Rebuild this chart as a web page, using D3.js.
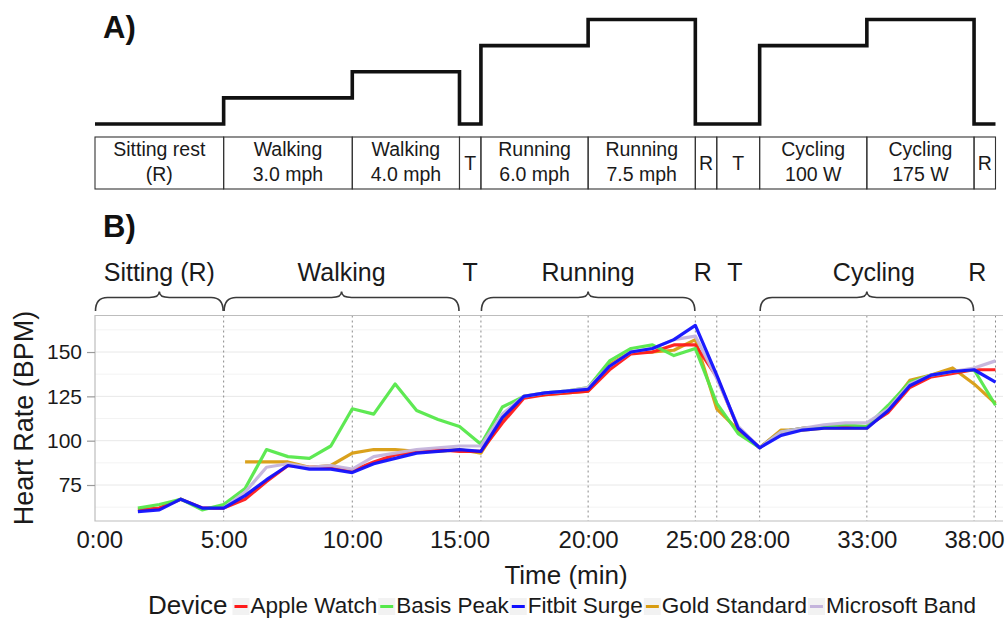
<!DOCTYPE html>
<html>
<head>
<meta charset="utf-8">
<script src="https://cdn.jsdelivr.net/npm/d3@7"></script>
<style>
  html, body { margin: 0; padding: 0; background: #fff; }
  svg { display: block; font-family: "Liberation Sans", Arial, sans-serif; }
</style>
</head>
<body>
<svg id="chart" width="1006" height="621"></svg>
<script>
// ---------- DATA ----------
// sample index (one per measurement, 5:00 == 0)
const sampleIdx = [-4,-3,-2,-1,0,1,2,3,4,5,6,7,8,9,10,11,12,13,14,15,16,17,18,19,20,21,22,23,24,25,26,27,28,29,30,31,32,33,34,35,36];
const devices = ["Apple Watch","Basis Peak","Fitbit Surge","Gold Standard","Microsoft Band"];
const deviceColors = ["#ff1a1a","#55e84a","#1010ff","#d89c10","#c4b4dc"];
const appleWatch = [61,62,67,62,62,67,77,86,85,85,83,88,92,94,95,94,94,110,124,126,127,128,140,149,150,154,154,136,107,96,105,107,108,108,108,116,130,136,138,140,140];
const basisPeak = [62,64,67,61,64,73,95,91,90,97,118,115,132,117,112,108,98,119,125,127,128,130,145,152,154,148,152,121,104,96,105,107,108,109,108,120,133,137,139,140,120];
const fitbitSurge = [60,61,67,62,62,69,78,86,84,84,82,87,90,93,94,95,94,113,125,127,128,129,142,150,152,157,165,137,107,96,103,106,107,107,107,117,131,137,139,140,133];
const goldStandard = [null,null,null,null,null,88,88,88,85,86,93,95,95,94,94,95,93,112,125,126,127,128,143,150,150,151,157,118,106,96,106,106,107,107,107,118,134,137,141,132,121];
const microsoftBand = [null,null,null,null,62,71,85,87,85,86,84,91,93,95,96,97,97,115,125,127,128,130,142,150,152,157,159,135,108,96,105,107,109,110,110,118,132,137,139,141,145];

// x-axis ticks (positions in sample index) and labels
const xTickIdx = [-5.8,0,6,11,17,22,25,30,35];
const xTickLabels = ["0:00","5:00","10:00","15:00","20:00","25:00","28:00","33:00","38:00"];
const yTicks = [75,100,125,150];
const yMinor = [62.5,87.5,112.5,137.5,162.5];

// protocol phases (panel A): boundaries in sample index, intensity level, labels
const phaseBounds = [-6,0,6,11,12,17,22,23,25,30,35,36];
const phaseLevels = [0,1,2,0,3,4,0,0,3,4,0];
const phaseLabels = [["Sitting rest","(R)"],["Walking","3.0 mph"],["Walking","4.0 mph"],["T"],["Running","6.0 mph"],["Running","7.5 mph"],["R"],["T"],["Cycling","100 W"],["Cycling","175 W"],["R"]];

// vertical phase markers in panel B
const phaseLines = [0,6,11,12,17,22,23,25,30,35,36];

// braces (panel B)
const braceStart = [-6,0,12,25];
const braceEnd = [0,11,22,35];
const braceNames = ["Sitting (R)","Walking","Running","Cycling"];
const soloLabels = ["T","R","T","R"];
const soloIdx = [11.5,22.35,23.85,35.15];

// ---------- LAYOUT ----------
const svg = d3.select("#chart");
const panel = {left: 95, right: 1003, top: 315.5, bottom: 521};

const x = d3.scaleLinear().domain([-6, 36.35]).range([panel.left, panel.right]);
const y = d3.scaleLinear().domain([54.7, 170.6]).range([panel.bottom, panel.top]);
const lvl = d3.scaleLinear().domain([0,4]).range([124, 19.5]);

const textCol = "#1a1a1a";

// ---------- PANEL A ----------
svg.append("text").attr("x", 103).attr("y", 38).attr("font-size", 31).attr("font-weight", "bold").attr("fill", "#111").text("A)");

const stepPts = phaseBounds.map((b, i) => [b, i < phaseLevels.length ? phaseLevels[i] : phaseLevels[phaseLevels.length-1]]);
svg.append("path")
  .attr("d", d3.line().x(d => x(d[0])).y(d => lvl(d[1])).curve(d3.curveStepAfter)(stepPts))
  .attr("fill", "none").attr("stroke", "#111").attr("stroke-width", 3.6);

const tableTop = 137, tableBot = 189;
const cells = svg.append("g");
phaseLabels.forEach((lab, i) => {
  const x0 = x(phaseBounds[i]), x1 = x(phaseBounds[i+1]);
  cells.append("rect").attr("x", x0).attr("y", tableTop).attr("width", x1 - x0).attr("height", tableBot - tableTop)
    .attr("fill", "none").attr("stroke", "#333").attr("stroke-width", 1.1);
  const cx = (x0 + x1) / 2;
  if (lab.length === 2) {
    cells.append("text").attr("x", cx).attr("y", 156).attr("text-anchor", "middle").attr("font-size", 19.5).attr("fill", textCol).text(lab[0]);
    cells.append("text").attr("x", cx).attr("y", 181).attr("text-anchor", "middle").attr("font-size", 19.5).attr("fill", textCol).text(lab[1]);
  } else {
    cells.append("text").attr("x", cx).attr("y", 169.5).attr("text-anchor", "middle").attr("font-size", 19.5).attr("fill", textCol).text(lab[0]);
  }
});

// ---------- PANEL B ----------
svg.append("text").attr("x", 103).attr("y", 237).attr("font-size", 31).attr("font-weight", "bold").attr("fill", "#111").text("B)");

// braces
const braceG = svg.append("g");
const bY = 297.5, tipY = 311, cuspY = 291.5;
braceStart.forEach((s, i) => {
  const x1 = x(s) + 0.5, x2 = x(braceEnd[i]) - 0.5, xm = (x1 + x2) / 2;
  const p = d3.path();
  p.moveTo(x1, tipY);
  p.quadraticCurveTo(x1, bY, x1 + 12, bY);
  p.lineTo(xm - 10, bY);
  p.quadraticCurveTo(xm, bY, xm, cuspY);
  p.quadraticCurveTo(xm, bY, xm + 10, bY);
  p.lineTo(x2 - 12, bY);
  p.quadraticCurveTo(x2, bY, x2, tipY);
  braceG.append("path").attr("d", p.toString()).attr("fill", "none").attr("stroke", "#3a3a3a").attr("stroke-width", 1.6);
  braceG.append("text").attr("x", i === 3 ? xm + 7 : xm).attr("y", 281).attr("text-anchor", "middle")
    .attr("font-size", 25).attr("fill", textCol).text(braceNames[i]);
});
soloLabels.forEach((t, i) => {
  braceG.append("text").attr("x", x(soloIdx[i])).attr("y", 281).attr("text-anchor", "middle")
    .attr("font-size", 25).attr("fill", textCol).text(t);
});

// grid
const grid = svg.append("g");
yMinor.forEach(v => grid.append("line").attr("x1", panel.left).attr("x2", panel.right).attr("y1", y(v)).attr("y2", y(v))
  .attr("stroke", "#f3f3f3").attr("stroke-width", 1));
yTicks.forEach(v => grid.append("line").attr("x1", panel.left).attr("x2", panel.right).attr("y1", y(v)).attr("y2", y(v))
  .attr("stroke", "#e8e8e8").attr("stroke-width", 1));

// phase marker lines
phaseLines.forEach(v => grid.append("line").attr("x1", x(v)).attr("x2", x(v)).attr("y1", panel.top).attr("y2", panel.bottom)
  .attr("stroke", "#8a8a8a").attr("stroke-width", 1).attr("stroke-dasharray", "2,3"));

// panel border
svg.append("path")
  .attr("d", `M${panel.right},${panel.top}H${panel.left}V${panel.bottom}H${panel.right}`)
  .attr("fill", "none").attr("stroke", "#bdbdbd").attr("stroke-width", 1.2);

// series
const series = [appleWatch, basisPeak, fitbitSurge, goldStandard, microsoftBand];
const line = d3.line().defined(d => d[1] != null).x(d => x(d[0])).y(d => y(d[1]));
const lineG = svg.append("g");
const order = [3, 0, 1, 4, 2];
order.forEach(k => {
  lineG.append("path")
    .attr("d", line(sampleIdx.map((s, i) => [s, series[k][i]])))
    .attr("fill", "none").attr("stroke", deviceColors[k]).attr("stroke-width", 3.2)
    .attr("stroke-linejoin", "round").attr("stroke-opacity", 0.95);
});

// y axis
const yAxis = svg.append("g").attr("transform", `translate(${panel.left},0)`)
  .call(d3.axisLeft(y).tickValues(yTicks).tickSize(8).tickPadding(5));
yAxis.select(".domain").remove();
yAxis.selectAll(".tick line").attr("stroke", "#9a9a9a").attr("stroke-width", 1.2);
yAxis.selectAll(".tick text").attr("font-size", 21).attr("fill", textCol).attr("font-family", "Liberation Sans, Arial, sans-serif");

// x axis
const xAxis = svg.append("g").attr("transform", `translate(0,${panel.bottom})`)
  .call(d3.axisBottom(x).tickValues(xTickIdx).tickFormat((d, i) => xTickLabels[i]).tickSize(0).tickPadding(10));
xAxis.select(".domain").remove();
xAxis.selectAll(".tick text").attr("font-size", 24).attr("fill", textCol).attr("font-family", "Liberation Sans, Arial, sans-serif");

// axis titles
svg.append("text").attr("x", 566).attr("y", 584).attr("text-anchor", "middle").attr("font-size", 26).attr("fill", textCol).text("Time (min)");
svg.append("text").attr("transform", "translate(33,418) rotate(-90)").attr("text-anchor", "middle").attr("font-size", 27).attr("fill", textCol).text("Heart Rate (BPM)");

// legend
const legend = svg.append("g");
const legY = 614;
const devText = legend.append("text").attr("x", 148).attr("y", legY).attr("font-size", 26).attr("fill", textCol).text("Device");
let cx = 148 + devText.node().getComputedTextLength() + 5;
devices.forEach((d, i) => {
  legend.append("rect").attr("x", cx).attr("y", legY - 16).attr("width", 17).attr("height", 17).attr("fill", "#f2f2f2");
  legend.append("line").attr("x1", cx + 2).attr("x2", cx + 15).attr("y1", legY - 7.5).attr("y2", legY - 7.5)
    .attr("stroke", deviceColors[i]).attr("stroke-width", 3);
  cx += 18;
  const t = legend.append("text").attr("x", cx).attr("y", legY - 1).attr("font-size", 22.5).attr("fill", textCol).text(d);
  cx += t.node().getComputedTextLength() + 1;
});
</script>
</body>
</html>
